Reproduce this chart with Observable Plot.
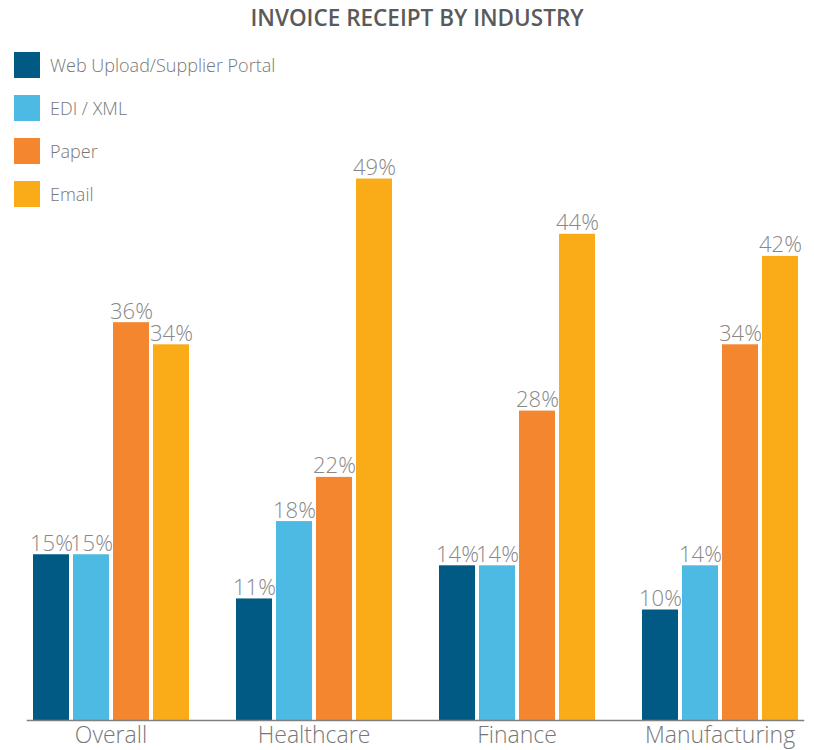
<!DOCTYPE html>
<html>
<head>
<meta charset="utf-8">
<script src="https://cdn.jsdelivr.net/npm/d3@7"></script>
<script src="https://cdn.jsdelivr.net/npm/@observablehq/plot@0.6"></script>
<style>
  body { margin: 0; background: #fff; font-family: "Open Sans", sans-serif; }
  #wrap { position: relative; width: 814px; height: 750px; overflow: hidden; }
  #title { height: 38px; line-height: 36px; text-align: center; padding-left: 20px; font-size: 22.5px; font-weight: 600; color: #5a5a5a; }
  #legend { position: absolute; left: 14px; top: 52px; }
  .item { display: flex; align-items: center; height: 26px; margin-bottom: 17px; font-size: 18px; font-weight: 300; color: #777; }
  .sw { width: 26px; height: 26px; margin-right: 10px; }
</style>
</head>
<body>
<div id="wrap">
  <div id="title">INVOICE RECEIPT BY INDUSTRY</div>
  <div id="chart"></div>
  <div id="legend"></div>
</div>
<script>
const industries = ["Overall", "Healthcare", "Finance", "Manufacturing"];
const channels = ["Web Upload/Supplier Portal", "EDI / XML", "Paper", "Email"];
const colors = ["#005a84", "#4dbae4", "#f3862e", "#faac18"];
const webUpload = [15, 11, 14, 10];
const ediXml = [15, 18, 14, 14];
const paper = [36, 22, 28, 34];
const email = [34, 49, 44, 42];

const seriesValues = [webUpload, ediXml, paper, email];
const data = [];
industries.forEach((ind, i) => {
  channels.forEach((ch, j) => {
    data.push({industry: ind, channel: ch, value: seriesValues[j][i]});
  });
});

const legend = document.getElementById("legend");
channels.forEach((ch, j) => {
  const d = document.createElement("div");
  d.className = "item";
  d.innerHTML = `<div class="sw" style="background:${colors[j]}"></div><span>${ch}</span>`;
  legend.appendChild(d);
});

const chart = Plot.plot({
  width: 814,
  height: 712,
  marginLeft: 9,
  marginRight: 0,
  marginTop: 19,
  marginBottom: 30,
  style: {fontFamily: "Open Sans, sans-serif", background: "transparent"},
  fx: {domain: industries, range: [25, 805], paddingInner: 0.176, paddingOuter: 0, label: null},
  x: {domain: channels, padding: 0.1, axis: null},
  y: {domain: [0, 60], axis: null},
  color: {domain: channels, range: colors},
  marks: [
    Plot.barY(data, {fx: "industry", x: "channel", y: "value", fill: "channel"}),
    Plot.text(data, {
      fx: "industry", x: "channel", y: "value",
      text: d => d.value + "%",
      lineAnchor: "bottom", dy: -4,
      fontSize: 22, fontWeight: 300, fill: "#888888"
    }),
    Plot.frame({anchor: "bottom", facet: "super", stroke: "#808080", strokeWidth: 1.5}),
    Plot.axisFx({anchor: "bottom", tickSize: 0, tickPadding: 6, fontSize: 23, fontWeight: 300, fill: "#777777", label: null})
  ]
});
document.getElementById("chart").appendChild(chart);
</script>
</body>
</html>
